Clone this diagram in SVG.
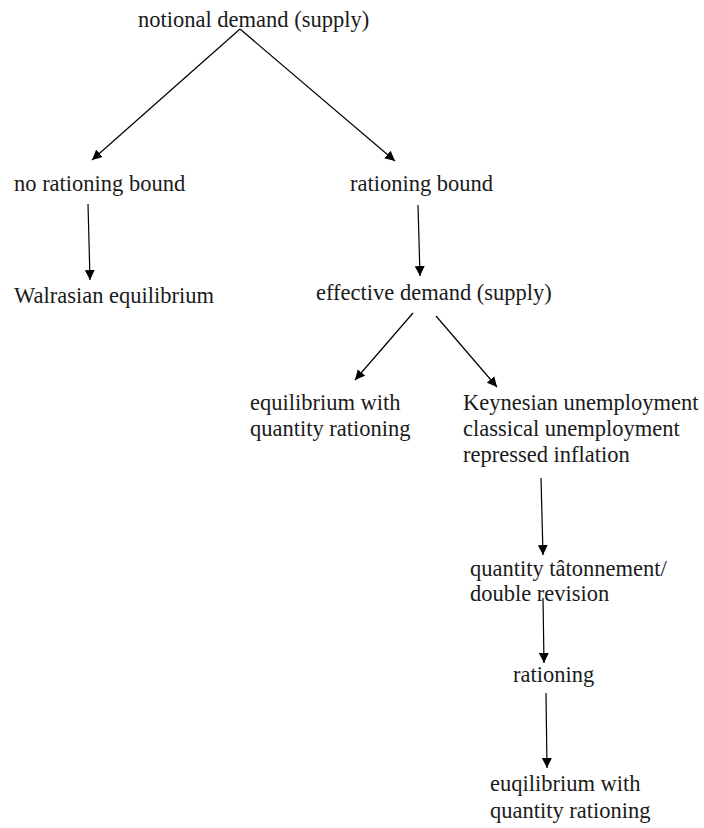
<svg xmlns="http://www.w3.org/2000/svg" width="704" height="828" viewBox="0 0 704 828">
<style>
text{font-family:"Liberation Serif","Times New Roman",serif;font-size:22.5px;fill:#1a1a1a}
.c line{stroke:#000;stroke-width:1.2;marker-end:url(#ah)}
</style>
<defs>
<marker id="ah" viewBox="0 0 10 10" refX="10" refY="5" markerWidth="10" markerHeight="10" markerUnits="userSpaceOnUse" orient="auto">
<path d="M0,0 L10,5 L0,10 z" fill="#000"/>
</marker>
</defs>
<rect width="704" height="828" fill="#fff"/>
<g id="notional"><text x="138" y="27">notional demand (supply)</text></g>
<g id="norationing"><text x="14" y="191">no rationing bound</text></g>
<g id="rationing-bound"><text x="350" y="191">rationing bound</text></g>
<g id="walrasian"><text x="14" y="303">Walrasian equilibrium</text></g>
<g id="effective"><text x="316" y="300">effective demand (supply)</text></g>
<g id="eq-qr"><text x="250" y="410">equilibrium with</text><text x="250" y="436">quantity rationing</text></g>
<g id="regimes"><text x="463" y="410">Keynesian unemployment</text><text x="463" y="436">classical unemployment</text><text x="463" y="462">repressed inflation</text></g>
<g id="tatonnement"><text x="470" y="576">quantity tâtonnement/</text><text x="470" y="601">double revision</text></g>
<g id="rationing"><text x="513" y="682">rationing</text></g>
<g id="euqilibrium"><text x="490" y="791">euqilibrium with</text><text x="490" y="818">quantity rationing</text></g>
<g id="connectors" class="c">
<line x1="240" y1="29" x2="92" y2="160"/>
<line x1="240" y1="29" x2="395" y2="161"/>
<line x1="88" y1="204" x2="90" y2="280"/>
<line x1="418" y1="205" x2="420" y2="276"/>
<line x1="413" y1="313" x2="355" y2="380"/>
<line x1="436" y1="316" x2="497" y2="387"/>
<line x1="541" y1="478" x2="543" y2="555"/>
<line x1="543" y1="598" x2="544" y2="663"/>
<line x1="546" y1="693" x2="547" y2="768"/>
</g>
</svg>
